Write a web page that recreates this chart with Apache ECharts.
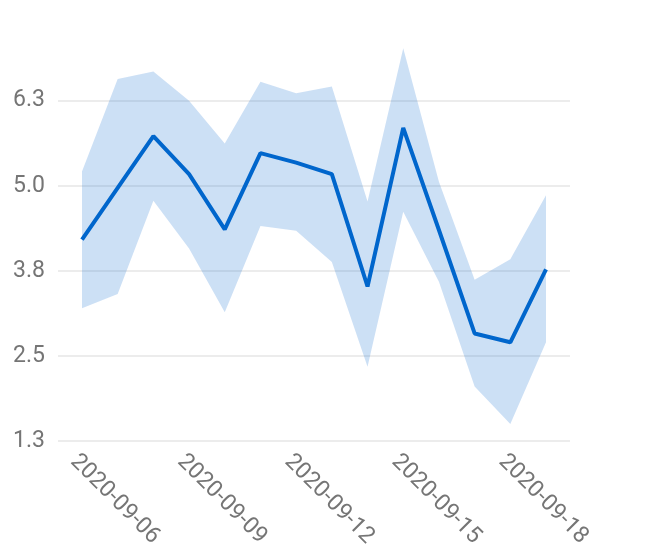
<!DOCTYPE html>
<html>
<head>
<meta charset="utf-8">
<script src="https://cdn.jsdelivr.net/npm/echarts@6/dist/echarts.min.js"></script>
<style>
  html, body { margin: 0; padding: 0; background: #fff; }
  #chart { width: 648px; height: 558px; }
</style>
</head>
<body>
<div id="chart"></div>
<script>
  // days on the x axis
  var dates = ['2020-09-06', '2020-09-07', '2020-09-08', '2020-09-09', '2020-09-10',
    '2020-09-11', '2020-09-12', '2020-09-13', '2020-09-14', '2020-09-15',
    '2020-09-16', '2020-09-17', '2020-09-18', '2020-09-19'];
  // middle line
  var mean = [4.21, 4.97, 5.73, 5.17, 4.36, 5.48, 5.34, 5.17, 3.52, 5.85, 4.35, 2.83, 2.70, 3.77];
  // band edges
  var lower = [3.20, 3.41, 4.78, 4.08, 3.14, 4.41, 4.34, 3.88, 2.34, 4.62, 3.59, 2.05, 1.50, 2.70];
  var upper = [5.21, 6.57, 6.68, 6.25, 5.62, 6.53, 6.36, 6.46, 4.77, 7.02, 5.06, 3.62, 3.92, 4.86];
  // which days get a label
  var labelDays = [0, 3, 6, 9, 12];
  var yTicks = [1.25, 2.5, 3.75, 5.0, 6.25];

  var chart = echarts.init(document.getElementById('chart'));

  var bandData = [], meanData = [];
  for (var i = 0; i < dates.length; i++) {
    bandData.push([i, lower[i], upper[i]]);
    meanData.push([i, mean[i]]);
  }

  // the whole band is one polygon, drawn when the first item comes in
  function renderBand(params, api) {
    if (params.dataIndex !== 0) return;
    var top = [], bottom = [];
    for (var k = 0; k < bandData.length; k++) {
      top.push(api.coord([bandData[k][0], bandData[k][2]]));
      bottom.unshift(api.coord([bandData[k][0], bandData[k][1]]));
    }
    return {
      type: 'polygon',
      shape: { points: top.concat(bottom) },
      style: { fill: 'rgba(0,102,204,0.2)' },
      silent: true
    };
  }

  chart.setOption({
    animation: false,
    textStyle: { fontFamily: 'Roboto' },
    grid: { left: 58, right: 78, top: 100.7, bottom: 117 },
    xAxis: {
      type: 'value',
      min: -0.672,
      max: dates.length - 1 + 0.672,
      axisLine: { show: false },
      axisTick: { show: false },
      splitLine: { show: false },
      axisLabel: {
        customValues: labelDays,
        rotate: -45,
        margin: 9,
        fontSize: 23,
        verticalAlign: 'top',
        color: '#757575',
        formatter: function (v) { return dates[Math.round(v)]; }
      }
    },
    yAxis: {
      type: 'value',
      min: yTicks[0],
      max: yTicks[yTicks.length - 1],
      interval: 1.25,
      axisLine: { show: false },
      axisTick: { show: false },
      splitLine: { lineStyle: { color: '#e6e6e6', width: 1.5 } },
      axisLabel: {
        margin: 13,
        fontSize: 23,
        color: '#757575',
        formatter: function (v) { return v.toFixed(1); }
      }
    },
    series: [
      {
        type: 'custom',
        data: bandData,
        clip: false,
        renderItem: renderBand,
        encode: { x: 0, y: [1, 2] },
        silent: true
      },
      {
        type: 'line',
        data: meanData,
        clip: false,
        symbol: 'none',
        lineStyle: { color: '#0066cc', width: 4 }
      }
    ]
  });
</script>
</body>
</html>
